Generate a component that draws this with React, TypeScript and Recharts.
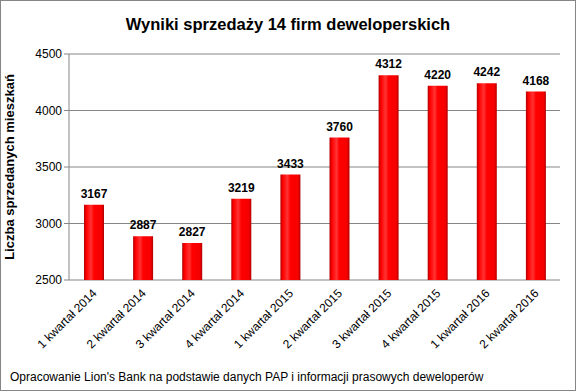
import { BarChart, Bar, XAxis, YAxis, CartesianGrid, LabelList } from 'recharts';

const quarters = [
  '1 kwartał 2014',
  '2 kwartał 2014',
  '3 kwartał 2014',
  '4 kwartał 2014',
  '1 kwartał 2015',
  '2 kwartał 2015',
  '3 kwartał 2015',
  '4 kwartał 2015',
  '1 kwartał 2016',
  '2 kwartał 2016',
];
const sales = [3167, 2887, 2827, 3219, 3433, 3760, 4312, 4220, 4242, 4168];
const yTicks = [2500, 3000, 3500, 4000, 4500];
const boundaryTicks = [0, 1, 2, 3, 4, 5, 6, 7, 8, 9, 10];

const data = quarters.map((q, i) => ({ quarter: q, sales: sales[i], idx: i + 0.5 }));

const FONT = '"Liberation Sans", Arial, sans-serif';

function QuarterTick({ x, y, payload }: any) {
  return (
    <text
      x={x + 4}
      y={y + 6}
      textAnchor="end"
      transform={`rotate(-45, ${x + 4}, ${y + 6})`}
      fontSize={12}
      fill="#000"
      fontFamily={FONT}
    >
      {payload.value}
    </text>
  );
}

export default function App() {
  return (
    <div
      style={{
        position: 'absolute',
        left: 0,
        top: 0,
        width: 574,
        height: 389,
        border: '1px solid #868686',
        background: '#fff',
        fontFamily: FONT,
      }}
    >
      <div
        style={{
          position: 'absolute',
          left: 0,
          top: 14,
          width: 574,
          textAlign: 'center',
          fontSize: 16.5,
          fontWeight: 'bold',
        }}
      >
        Wyniki sprzedaży 14 firm deweloperskich
      </div>
      <BarChart
        width={574}
        height={389}
        data={data}
        margin={{ top: 53, right: 15, left: 0, bottom: 30 }}
      >
        <defs>
          <linearGradient id="barFill" x1="0" y1="0" x2="1" y2="0">
            <stop offset="0%" stopColor="#b00000" />
            <stop offset="12%" stopColor="#ff0000" />
            <stop offset="35%" stopColor="#ff3333" />
            <stop offset="50%" stopColor="#ff0000" />
            <stop offset="88%" stopColor="#f50000" />
            <stop offset="100%" stopColor="#b00000" />
          </linearGradient>
        </defs>
        <CartesianGrid vertical={false} stroke="#868686" />
        <XAxis
          xAxisId="bounds"
          type="number"
          dataKey="idx"
          domain={[0, 10]}
          ticks={boundaryTicks}
          tick={false}
          tickLine={{ stroke: '#868686' }}
          tickSize={5}
          axisLine={{ stroke: '#868686' }}
          height={0}
          interval={0}
        />
        <XAxis
          dataKey="quarter"
          interval={0}
          tickLine={false}
          axisLine={false}
          tick={<QuarterTick />}
          height={80}
        />
        <YAxis
          domain={[2500, 4500]}
          ticks={yTicks}
          width={68}
          tick={{ fontSize: 12, fill: '#000', fontFamily: FONT }}
          tickLine={{ stroke: '#868686' }}
          tickSize={5}
          axisLine={{ stroke: '#868686' }}
          allowDataOverflow
          label={{
            value: 'Liczba sprzedanych mieszkań',
            angle: -90,
            position: 'insideLeft',
            offset: 8,
            style: { textAnchor: 'middle', fontSize: 13, fontWeight: 'bold', fill: '#000', fontFamily: FONT },
          }}
        />
        <Bar dataKey="sales" fill="url(#barFill)" barSize={20} isAnimationActive={false}>
          <LabelList
            dataKey="sales"
            position="top"
            offset={7}
            style={{ fontSize: 12, fontWeight: 'bold', fill: '#000', fontFamily: FONT }}
          />
        </Bar>
      </BarChart>
      <div style={{ position: 'absolute', left: 9, top: 369, fontSize: 12, whiteSpace: 'nowrap' }}>
        Opracowanie Lion's Bank na podstawie danych PAP i informacji prasowych deweloperów
      </div>
    </div>
  );
}
